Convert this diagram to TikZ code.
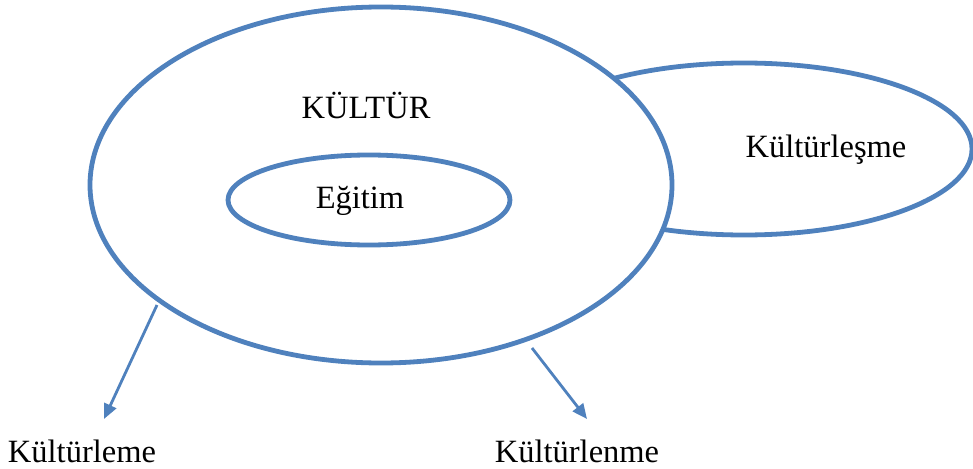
\documentclass[tikz,border=0pt]{standalone}
\usepackage{fontspec}
\setmainfont{Liberation Serif}
\usetikzlibrary{shapes.geometric,arrows.meta}
\definecolor{ringblue}{HTML}{4F81BD}
\tikzset{
  ring/.style={ellipse, draw=ringblue, line width=4.8pt, inner sep=0pt},
  label/.style={anchor=base, inner sep=0pt, font=\fontsize{32.5}{38}\selectfont},
  link/.style={draw=ringblue, line width=2.8pt, -{Triangle[length=15pt,width=13pt]}}
}
\begin{document}
\begin{tikzpicture}[x=1pt,y=-1pt]
  \useasboundingbox (0,0) rectangle (973,468);
  % side ellipse, partly covered by the main one
  \node[ring, minimum width=456pt, minimum height=172pt] (side) at (744,149) {};
  % main ellipse and the inner one
  \node[ring, fill=white, minimum width=582pt, minimum height=356pt] (kultur) at (381,185) {};
  \node[ring, minimum width=282pt, minimum height=90pt] (egitim) at (369,200) {};
  % labels
  \node[label] (tKultur) at (366,118) {KÜLTÜR};
  \node[label] (tEgitim) at (360,208) {Eğitim};
  \node[label] (tLesme) at (826,157) {Kültürleşme};
  \node[label] (tLeme) at (82,462) {Kültürleme};
  \node[label] (tLenme) at (577,462) {Kültürlenme};
  % arrows
  \coordinate (a1) at (157,305);
  \coordinate (b1) at (104,419);
  \coordinate (a2) at (532,348);
  \coordinate (b2) at (587,419);
  \draw[link] (a1) -- (b1);
  \draw[link] (a2) -- (b2);
\end{tikzpicture}
\end{document}
